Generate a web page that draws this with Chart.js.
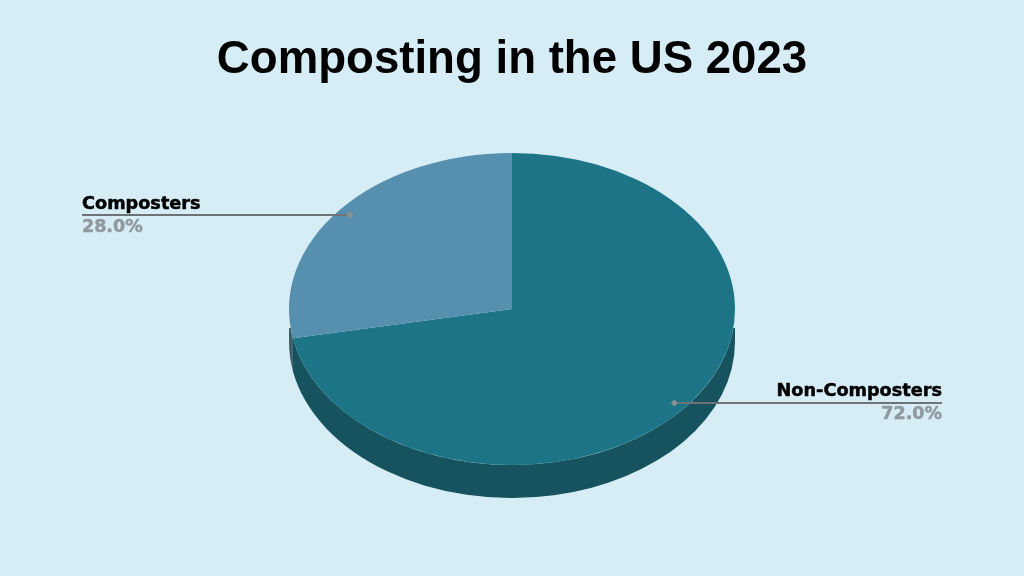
<!DOCTYPE html>
<html>
<head>
<meta charset="utf-8">
<title>Composting in the US 2023</title>
<script src="https://cdn.jsdelivr.net/npm/chart.js@4"></script>
<style>
  html, body { margin: 0; padding: 0; background: #d7edf6; }
  #wrap { width: 1024px; height: 576px; }
</style>
</head>
<body>
<div id="wrap"><canvas id="pieChart"></canvas></div>
<script>
// Chart data
const categories = ['Non-Composters', 'Composters'];
const shares = [72.0, 28.0];
const sliceColors = ['#1c7486', '#5790af'];
const wallColors = ['#16535f', '#3f5f6c'];
const labelSides = ['right', 'left'];

// Tilt of the pie: the round pie is squashed to an ellipse and given a wall
const squash = 156 / 223;
const wallDepth = 33;
const wallStart = 19; // wall only shows this far below the pie centre

function tilt(ctx, arc) {
  ctx.translate(arc.x, arc.y);
  ctx.scale(1, squash);
  ctx.translate(-arc.x, -arc.y);
}

// Draw the wall under the front half of the pie, then squash the slices
const tiltPlugin = {
  id: 'tilt',
  beforeDatasetsDraw(chart) {
    const ctx = chart.ctx;
    const arcs = chart.getDatasetMeta(0).data;
    ctx.save();
    arcs.forEach((arc, i) => {
      const start = Math.max(arc.startAngle, 0);
      const end = Math.min(arc.endAngle, Math.PI);
      if (end <= start) return;
      ctx.save();
      ctx.beginPath();
      ctx.rect(0, arc.y + wallStart, chart.width, chart.height);
      ctx.clip();
      tilt(ctx, arc);
      const d = wallDepth / squash;
      ctx.beginPath();
      ctx.arc(arc.x, arc.y, arc.outerRadius, start, end);
      ctx.arc(arc.x, arc.y + d, arc.outerRadius, end, start, true);
      ctx.closePath();
      ctx.fillStyle = wallColors[i];
      ctx.fill();
      ctx.restore();
    });
    tilt(ctx, arcs[0]);
  },
  afterDatasetsDraw(chart) {
    chart.ctx.restore();
  }
};

// Leader lines with the category name above and the share below
const calloutPlugin = {
  id: 'callouts',
  afterDraw(chart) {
    const ctx = chart.ctx;
    chart.getDatasetMeta(0).data.forEach((arc, i) => {
      const mid = (arc.startAngle + arc.endAngle) / 2;
      const px = arc.x + Math.cos(mid) * arc.outerRadius * 0.945;
      const py = arc.y + Math.sin(mid) * arc.outerRadius * 0.945 * squash;
      const side = labelSides[i];
      const endX = side === 'left' ? 82 : 942;

      ctx.save();
      ctx.strokeStyle = '#6d7377';
      ctx.lineWidth = 2;
      ctx.beginPath();
      ctx.moveTo(endX, py);
      ctx.lineTo(px, py);
      ctx.stroke();

      ctx.fillStyle = '#8a9296';
      ctx.beginPath();
      ctx.moveTo(px - 3.5, py);
      ctx.lineTo(px, py - 3.5);
      ctx.lineTo(px + 3.5, py);
      ctx.lineTo(px, py + 3.5);
      ctx.closePath();
      ctx.fill();

      // thin outline makes the labels as heavy as in the original
      ctx.textAlign = side;
      ctx.textBaseline = 'alphabetic';
      ctx.lineWidth = 0.5;
      ctx.lineJoin = 'round';
      ctx.font = 'bold 17.7px "DejaVu Sans"';
      ctx.fillStyle = '#000000';
      ctx.strokeStyle = '#000000';
      ctx.fillText(categories[i], endX, py - 6.5);
      ctx.strokeText(categories[i], endX, py - 6.5);
      ctx.font = 'bold 17.5px "DejaVu Sans"';
      ctx.fillStyle = '#8f9aa0';
      ctx.strokeStyle = '#8f9aa0';
      ctx.fillText(shares[i].toFixed(1) + '%', endX, py + 16.5);
      ctx.strokeText(shares[i].toFixed(1) + '%', endX, py + 16.5);
      ctx.restore();
    });
  }
};

new Chart(document.getElementById('pieChart'), {
  type: 'pie',
  data: {
    labels: categories,
    datasets: [{
      data: shares,
      backgroundColor: sliceColors,
      borderWidth: 0
    }]
  },
  options: {
    responsive: true,
    maintainAspectRatio: false,
    animation: false,
    layout: { padding: { top: 0, bottom: 44, left: 0, right: 0 } },
    plugins: {
      legend: { display: false },
      tooltip: { enabled: false },
      title: {
        display: true,
        text: 'Composting in the US 2023',
        color: '#000000',
        font: { family: '"Liberation Sans"', size: 45.6, weight: 'bold', lineHeight: 1 },
        padding: { top: 37.6, bottom: 2.8 }
      }
    }
  },
  plugins: [tiltPlugin, calloutPlugin]
});
</script>
</body>
</html>
